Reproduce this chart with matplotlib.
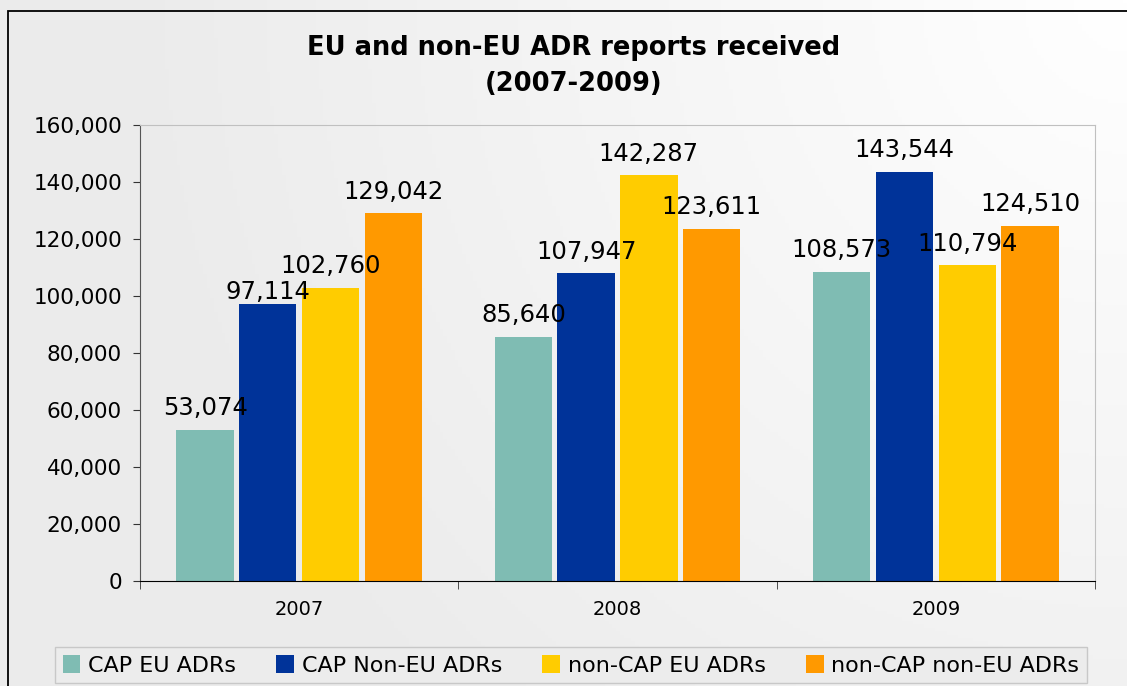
import numpy as np
import matplotlib.pyplot as plt
from matplotlib.patches import Rectangle
from matplotlib.ticker import FuncFormatter

years = ["2007", "2008", "2009"]
series = ["CAP EU ADRs", "CAP Non-EU ADRs", "non-CAP EU ADRs", "non-CAP non-EU ADRs"]
cap_eu = [53074, 85640, 108573]
cap_non_eu = [97114, 107947, 143544]
noncap_eu = [102760, 142287, 110794]
noncap_non_eu = [129042, 123611, 124510]
colors = ["#7fbcb3", "#003399", "#ffcc00", "#ff9900"]

W, H = 1127, 686
fig = plt.figure(figsize=(W / 100, H / 100), dpi=100)

# background: light grey, fading to white toward the top right corner
bg = fig.add_axes([0, 0, 1, 1], zorder=-10)
gx, gy = np.meshgrid(np.linspace(0, 1, 300), np.linspace(0, 1, 200))
d = np.sqrt((1.0 - gx) ** 2 + (gy * H / W) ** 2)
shade = 255 - 20 * np.clip(d / 0.9, 0, 1)
img = np.dstack([shade, shade, shade]) / 255.0
bg.imshow(img, extent=[0, 1, 0, 1], aspect="auto", origin="upper")
bg.set_axis_off()

# black outer frame (right/bottom fall outside the picture)
fig.patches.append(Rectangle((8 / W, -0.5), 2, 1.5 - 11 / H, transform=fig.transFigure,
                             fill=False, edgecolor="black", linewidth=1.3))

ax = fig.add_axes([140 / W, 1 - 581 / H, (1095 - 140) / W, (581 - 125) / H])
ax.set_facecolor("none")

x = np.arange(len(years))
step, width = 0.197, 0.18
data = [cap_eu, cap_non_eu, noncap_eu, noncap_non_eu]
for i, (vals, col, name) in enumerate(zip(data, colors, series)):
    pos = x + (i - 1.5) * step
    ax.bar(pos, vals, width, color=col, label=name, zorder=2)
    for p, v in zip(pos, vals):
        off = 0 if (name == "CAP Non-EU ADRs" and v == 97114) else 7
        ax.annotate(f"{v:,}", (p, v), xytext=(0, off), textcoords="offset points",
                    ha="center", va="bottom", fontsize=17.5, zorder=3)

ax.set_ylim(0, 160000)
ax.set_yticks(np.arange(0, 160001, 20000))
ax.yaxis.set_major_formatter(FuncFormatter(lambda v, _: f"{int(v):,}"))
ax.set_xlim(-0.5, 2.5)
ax.set_xticks(x)
ax.set_xticklabels(years)
ax.set_xticks([-0.5, 0.5, 1.5, 2.5], minor=True)
ax.tick_params(axis="x", which="major", length=0, labelsize=14, pad=14)
ax.tick_params(axis="x", which="minor", length=6, color="#333333")
ax.tick_params(axis="y", length=5, labelsize=15.5, color="#333333", pad=8)

ax.spines["bottom"].set_color("black")
ax.spines["left"].set_color("#555555")
ax.spines["top"].set_color("#c0c0c0")
ax.spines["right"].set_color("#c0c0c0")

fig.text(574 / W, 1 - 66 / H, "EU and non-EU ADR reports received\n(2007-2009)",
         ha="center", va="center", fontsize=18.5, fontweight="bold", linespacing=1.5)

leg = fig.legend(loc="upper center", bbox_to_anchor=(571 / W, 1 - 647 / H), ncol=4,
                 fontsize=16, frameon=True, fancybox=False, handlelength=0.8,
                 handleheight=0.9, handletextpad=0.35, columnspacing=1.8,
                 borderpad=0.35, borderaxespad=0)
leg.get_frame().set_facecolor("#ececec")
leg.get_frame().set_edgecolor("#c8c8c8")
leg.get_frame().set_alpha(1)

fig.savefig("out.png", dpi=100)
